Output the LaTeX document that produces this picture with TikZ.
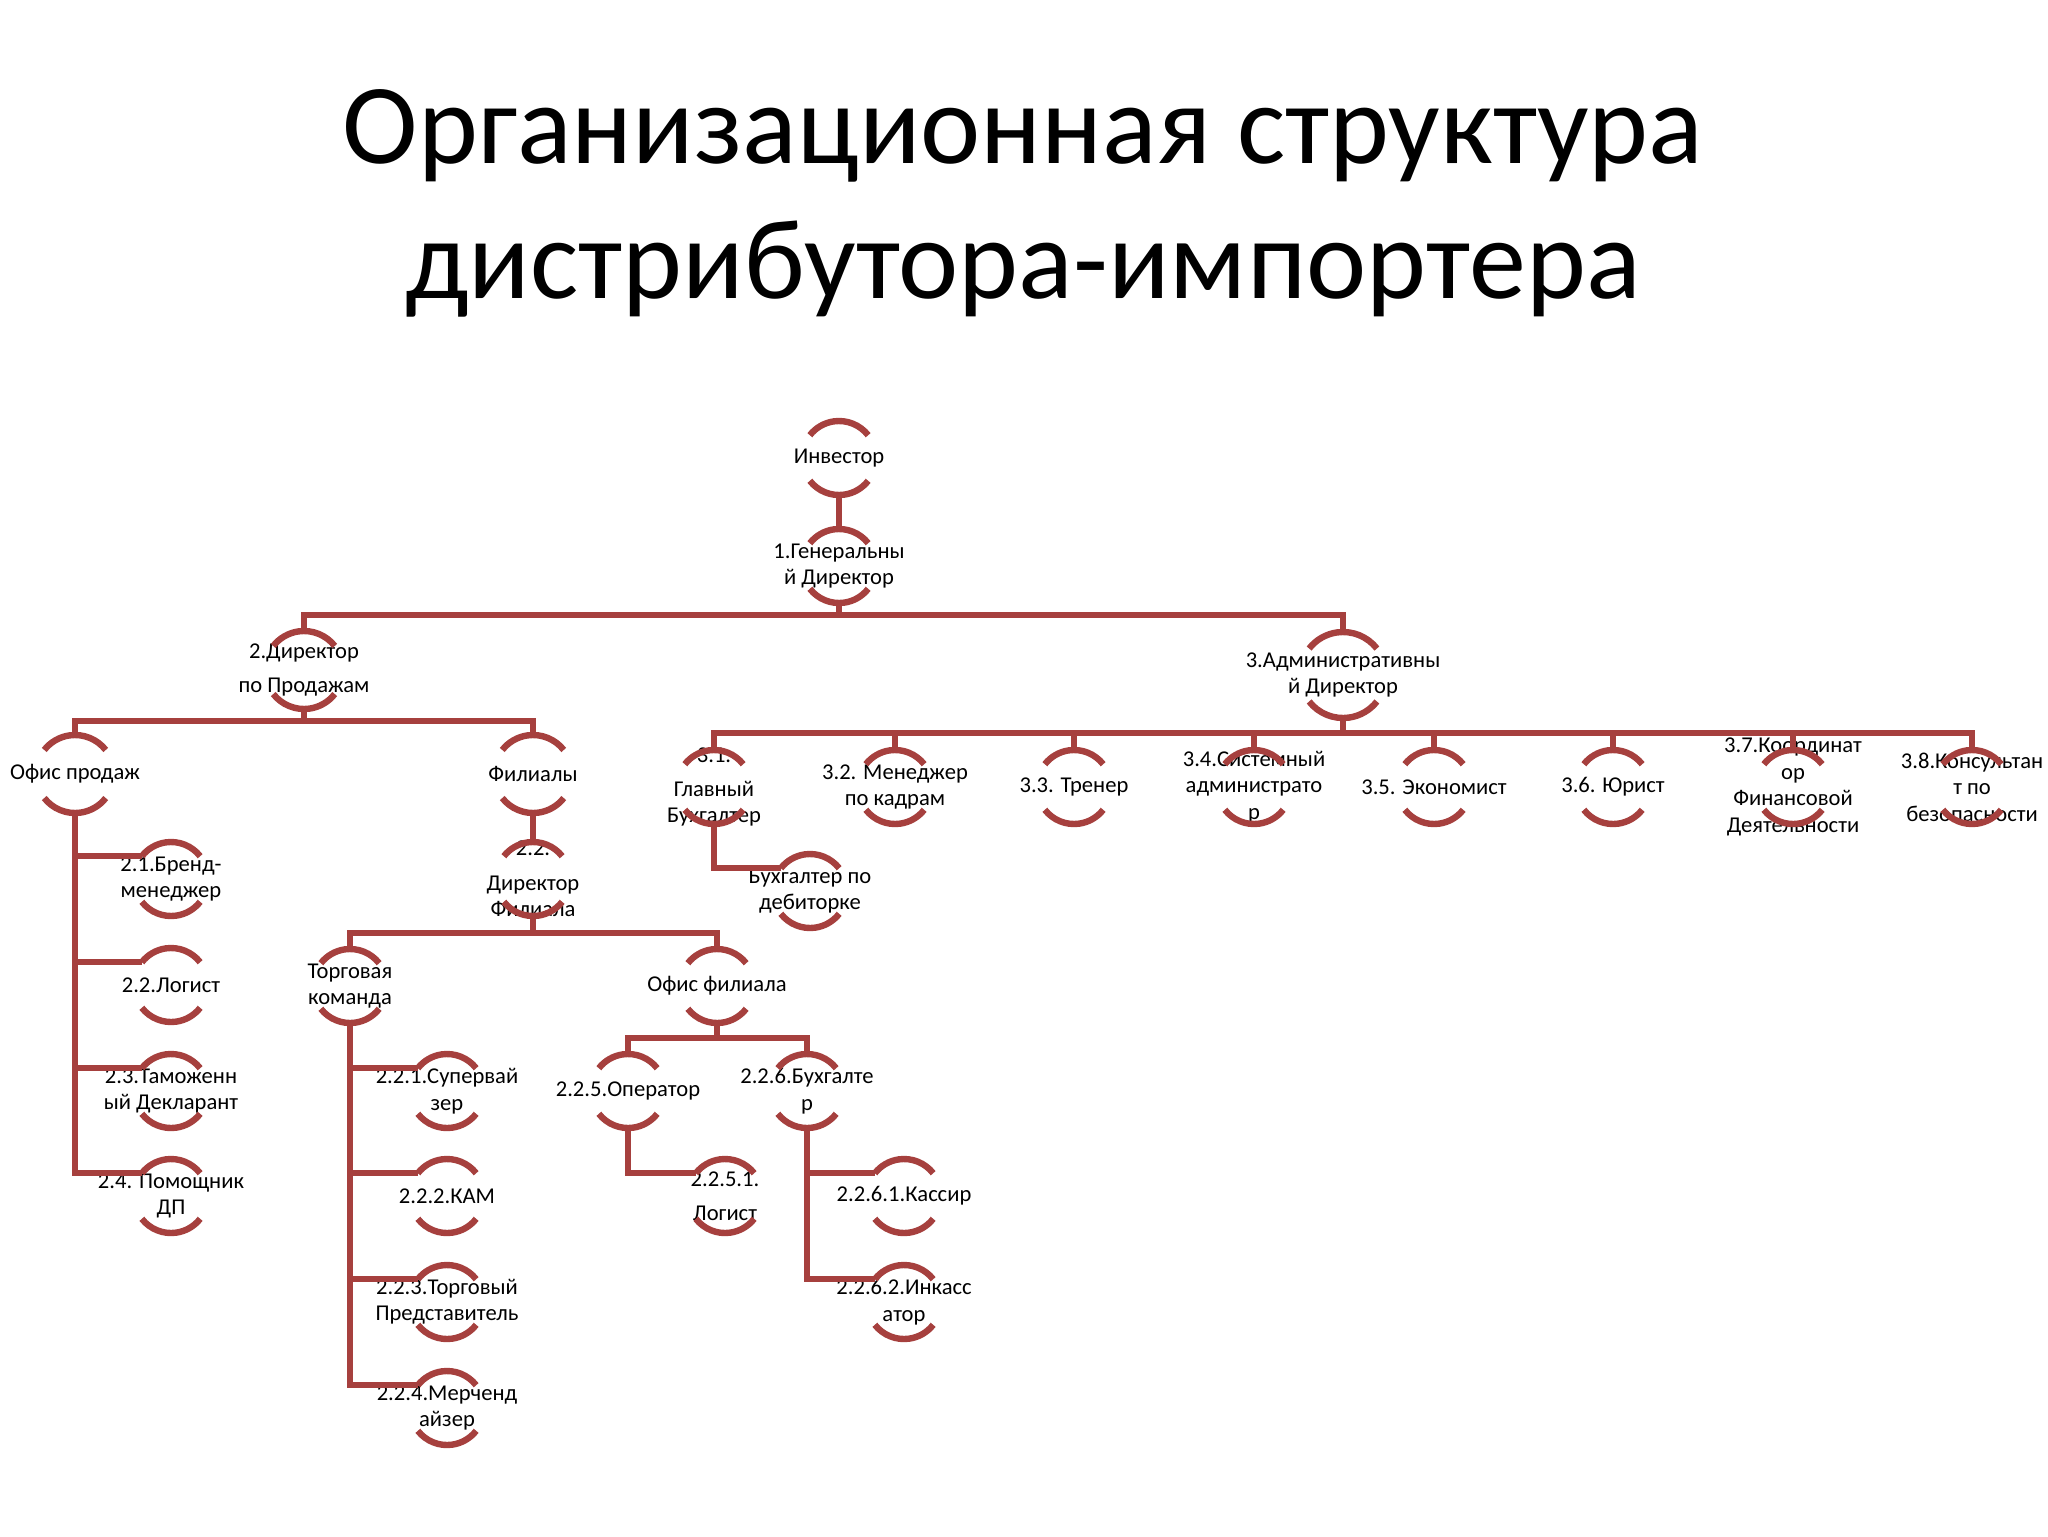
\documentclass[tikz,border=0pt]{standalone}
\usepackage{fontspec}
\setmainfont{Carlito}
\definecolor{orgred}{RGB}{166,64,62}

% one unit of the chart: text between a cap arc and a cup arc
\newcommand{\orgunit}[4]{%
  \node[unit] (#1) at (#2) {#4};
  \draw[arcline] ([shift={(38:#3)}]#1.center) arc[start angle=38, end angle=142, radius=#3];
  \draw[arcline] ([shift={(218:#3)}]#1.center) arc[start angle=218, end angle=322, radius=#3];
  \coordinate (#1-t) at ([yshift=#3]#1.center);
  \coordinate (#1-b) at ([yshift=-#3]#1.center);
  \coordinate (#1-l) at ([shift={(142:#3)}]#1.center);
}

\begin{document}
\begin{tikzpicture}[x=0.5pt, y=-0.5pt,
    unit/.style={align=center, inner sep=0pt, font=\fontsize{11.3}{13.2}\selectfont},
    arcline/.style={line width=3.2pt, orgred},
    link/.style={line width=3.2pt, orgred},
    heading/.style={anchor=base, inner sep=0pt, font=\fontsize{57}{68}\selectfont}]
  \useasboundingbox (0,0) rectangle (2048,1536);

  \node[heading] (ttl1) at (1023,163) {Организационная структура};
  \node[heading] (ttl2) at (1023,298) {дистрибутора-импортера};

  % top of the tree
  \orgunit{inv}{839,458}{18.5pt}{Инвестор}
  \orgunit{gd}{839,566}{18.5pt}{1.Генеральны\\й Директор}
  \orgunit{dirS}{304,670}{19.5pt}{2.Директор\\[4pt]по Продажам}
  \orgunit{dirA}{1343,675}{21.5pt}{3.Административны\\й Директор}

  % sales branch
  \orgunit{ofS}{75,774}{19.5pt}{Офис продаж}
  \orgunit{fil}{533,774}{19.5pt}{Филиалы}
  \foreach \nm/\yy/\txt in {b21/879/{2.1.Бренд-\\менеджер}, b22/985/{2.2.Логист},
      b23/1091/{2.3.Таможенн\\ый Декларант}, b24/1196/{2.4. Помощник\\ДП}}
    {\orgunit{\nm}{171,\yy}{18.5pt}{\txt}}
  \orgunit{dirF}{533,879}{18.5pt}{2.2.\\[4pt]Директор\\Филиала}
  \orgunit{tk}{350,986}{18.5pt}{Торговая\\команда}
  \orgunit{ofF}{717,986}{18.5pt}{Офис филиала}
  \foreach \nm/\yy/\txt in {b221/1091/{2.2.1.Супервай\\зер}, b222/1196/{2.2.2.КАМ},
      b223/1302/{2.2.3.Торговый\\Представитель}, b224/1408/{2.2.4.Мерченд\\айзер}}
    {\orgunit{\nm}{447,\yy}{18.5pt}{\txt}}
  \orgunit{op}{628,1091}{18.5pt}{2.2.5.Оператор}
  \orgunit{bux}{807,1091}{18.5pt}{2.2.6.Бухгалте\\р}
  \orgunit{lg}{725,1196}{18.5pt}{2.2.5.1.\\[4pt]Логист}
  \orgunit{kas}{904,1196}{18.5pt}{2.2.6.1.Кассир}
  \orgunit{ink}{904,1302}{18.5pt}{2.2.6.2.Инкасс\\атор}

  % administrative branch
  \foreach \nm/\xx/\txt in {a31/714/{3.1.\\[4pt]Главный\\Бухгалтер},
      a32/895/{3.2. Менеджер\\по кадрам}, a33/1074/{3.3. Тренер},
      a34/1254/{3.4.Системный\\администрато\\р}, a35/1434/{3.5. Экономист},
      a36/1613/{3.6. Юрист}, a37/1793/{3.7.Координат\\ор\\Финансовой\\Деятельности},
      a38/1972/{3.8.Консультан\\т по\\безопасности}}
    {\orgunit{\nm}{\xx,787}{18.5pt}{\txt}}
  \orgunit{deb}{810,891}{18.5pt}{Бухгалтер по\\дебиторке}

  % bus lines
  \coordinate (bar1) at (0,615);
  \coordinate (bar2) at (0,721);
  \coordinate (bar3) at (0,733);
  \coordinate (bar4) at (0,933);
  \coordinate (bar5) at (0,1038);

  \draw[link] (inv-b) -- (gd-t);
  \draw[link] (gd-b) -- (gd-b |- bar1);
  \draw[link] (dirS-t) -- (dirS-t |- bar1) -- (dirA-t |- bar1) -- (dirA-t);

  \draw[link] (dirS-b) -- (dirS-b |- bar2);
  \draw[link] (ofS-t) -- (ofS-t |- bar2) -- (fil-t |- bar2) -- (fil-t);
  \foreach \kid in {b21,b22,b23}
    \draw[link] (ofS-b |- \kid-l) -- (\kid-l);
  \draw[link] (ofS-b) |- (b24-l);

  \draw[link] (fil-b) -- (dirF-t);
  \draw[link] (dirF-b) -- (dirF-b |- bar4);
  \draw[link] (tk-t) -- (tk-t |- bar4) -- (ofF-t |- bar4) -- (ofF-t);
  \foreach \kid in {b221,b222,b223}
    \draw[link] (tk-b |- \kid-l) -- (\kid-l);
  \draw[link] (tk-b) |- (b224-l);

  \draw[link] (ofF-b) -- (ofF-b |- bar5);
  \draw[link] (op-t) -- (op-t |- bar5) -- (bux-t |- bar5) -- (bux-t);
  \draw[link] (op-b) |- (lg-l);
  \draw[link] (bux-b |- kas-l) -- (kas-l);
  \draw[link] (bux-b) |- (ink-l);

  \draw[link] (dirA-b) -- (dirA-b |- bar3);
  \draw[link] (a31-t) -- (a31-t |- bar3) -- (a38-t |- bar3) -- (a38-t);
  \foreach \kid in {a32,a33,a34,a35,a36,a37}
    \draw[link] (\kid-t) -- (\kid-t |- bar3);
  \draw[link] (a31-b) |- (deb-l);
\end{tikzpicture}
\end{document}
